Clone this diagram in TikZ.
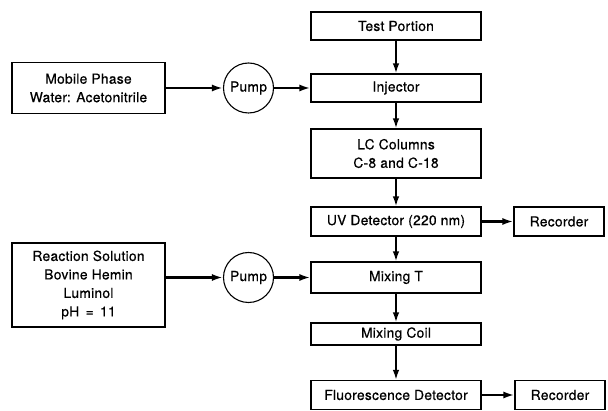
\documentclass[tikz,border=0pt]{standalone}
\usepackage{fontspec}
\setmainfont{TeX Gyre Heros}[FakeBold=0.6, LetterSpace=2]
\usetikzlibrary{arrows.meta}

\tikzset{
  stagebox/.style={draw, line width=1.1pt, inner sep=0pt, align=center,
    minimum width=170pt, minimum height=#1},
  stagebox/.default=28pt,
  sidebox/.style={draw, line width=1.1pt, inner sep=0pt, align=center,
    minimum width=153pt, minimum height=#1},
  recbox/.style={draw, line width=1.1pt, inner sep=0pt,
    minimum width=90pt, minimum height=29pt},
  pumpnode/.style={draw, circle, line width=1.1pt, inner sep=0pt, minimum size=50pt},
  flow/.style={line width=1.8pt, -{Latex[length=10pt,width=6.5pt]}},
  feed/.style={line width=2.3pt, -{Latex[length=11pt,width=7pt]}},
}

\begin{document}
\begin{tikzpicture}[x=1pt, y=-1pt,
  every node/.append style={font=\fontsize{13.8}{18.5}\selectfont}]
\useasboundingbox (0,0) rectangle (608,411);

% main column
\node[stagebox] (test) at (396,26) {Test Portion};
\node[stagebox] (inj) at (396,88) {Injector};
\node[stagebox=49pt] (lc) at (396,153.5) {LC Columns\\C-8 and C-18};
\node[stagebox=29pt] (uv) at (396,221.5) {UV Detector (220 nm)};
\node[stagebox=31pt] (mixt) at (396,277.5) {Mixing T};
\node[stagebox=22pt] (coil) at (396,334) {Mixing Coil};
\node[stagebox=29pt] (fluo) at (396,395) {Fluorescence Detector};

% recorders
\node[recbox] (rec1) at (559,221.5) {Recorder};
\node[recbox] (rec2) at (560,395) {Recorder};

% solvent supplies and pumps
\node[sidebox=51pt] (mobile) at (88.5,88) {Mobile Phase\\Water: Acetonitrile};
\node[pumpnode] (pump1) at (248.5,88) {Pump};
\node[sidebox=84pt] (react) at (88.5,285) {Reaction Solution\\Bovine Hemin\\Luminol\\pH \,=\, 11};
\node[pumpnode] (pump2) at (248.5,277.5) {Pump};

% connectors
\draw[flow] (test) -- (inj);
\draw[flow] (inj) -- (lc);
\draw[flow] (lc) -- (uv);
\draw[flow] (uv) -- (mixt);
\draw[flow] (mixt) -- (coil);
\draw[flow] (coil) -- (fluo);

\draw[feed] (uv) -- (rec1);
\draw[feed] (fluo) -- (rec2);

\draw[feed] (mobile) -- (pump1);
\draw[feed] (pump1) -- (inj);
\draw[feed] (react.east |- pump2) -- (pump2);
\draw[feed] (pump2) -- (mixt);
\end{tikzpicture}
\end{document}
